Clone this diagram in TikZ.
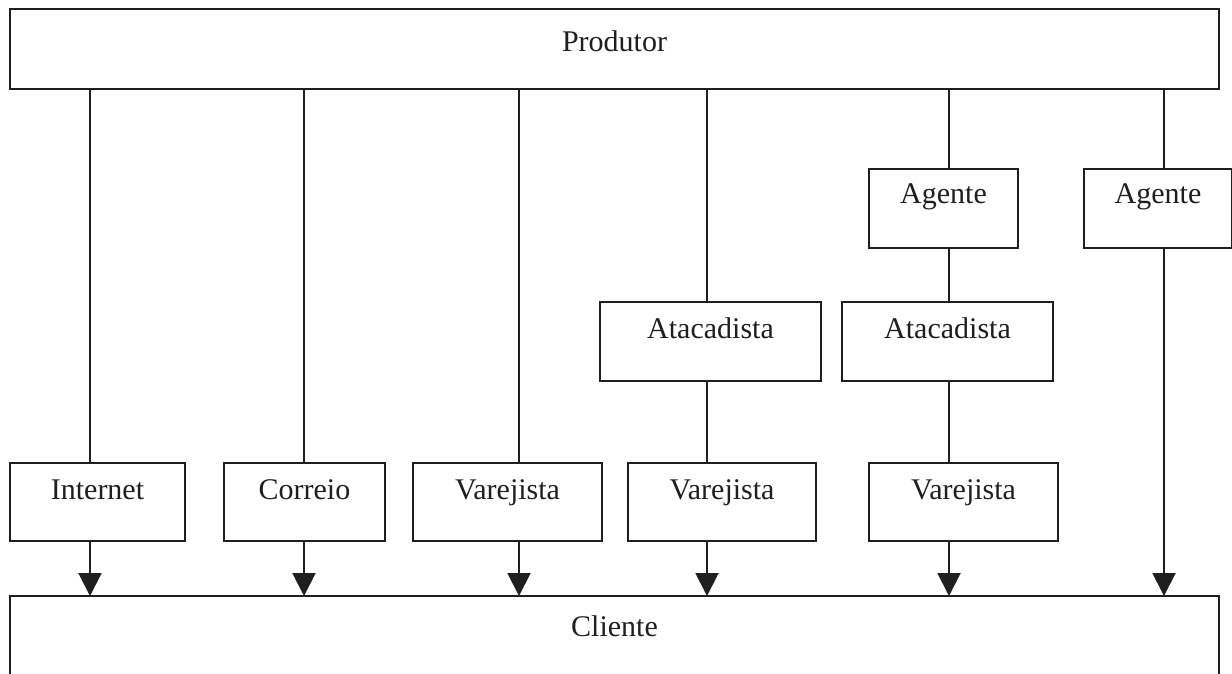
\documentclass[tikz,border=0pt]{standalone}
\usepackage{fontspec}
\setmainfont{Liberation Serif}
\usetikzlibrary{arrows.meta}
\begin{document}
\begin{tikzpicture}[x=1pt,y=-1pt,
  box/.style={draw=black!88, line width=2pt, inner sep=0pt, anchor=north west,
    font=\fontsize{30}{35}\selectfont, text=black!88},
  smallbox/.style={box, text height=36pt, text depth=42pt},
  conn/.style={draw=black!88, line width=2pt},
  arr/.style={conn, -{Triangle[width=23pt,length=23pt]}, shorten >=-1pt}]
\clip (0,0) rectangle (1232,674);
\fill[white] (0,0) rectangle (1232,674);
% big boxes
\node[box, minimum width=1209pt, text height=43pt, text depth=37pt] (prod) at (9,8) {Produtor};
\node[box, minimum width=1209pt, text height=40pt, text depth=70pt] (cli) at (9,595) {Cliente};
% bottom row
\node[smallbox, minimum width=175pt] (inet) at (9,462) {Internet};
\node[smallbox, minimum width=161pt] (corr) at (223,462) {Correio};
\node[smallbox, minimum width=189pt] (var1) at (412,462) {Varejista};
\node[smallbox, minimum width=188pt] (var2) at (627,462) {Varejista};
\node[smallbox, minimum width=189pt] (var3) at (868,462) {Varejista};
% middle row
\node[box, minimum width=221pt, text height=36pt, text depth=43pt] (ata1) at (599,301) {Atacadista};
\node[box, minimum width=211pt, text height=36pt, text depth=43pt] (ata2) at (841,301) {Atacadista};
% top row
\node[box, minimum width=149pt, text height=35pt, text depth=44pt] (ag1) at (868,168) {Agente};
\node[box, minimum width=148pt, text height=35pt, text depth=44pt] (ag2) at (1083,168) {Agente};
% column positions
\coordinate (c1) at (90,0);
\coordinate (c2) at (304,0);
\coordinate (c3) at (519,0);
\coordinate (c4) at (707,0);
\coordinate (c5) at (949,0);
\coordinate (c6) at (1164,0);
% column 1
\draw[conn] (c1 |- prod.south) -- (c1 |- inet.north);
\draw[arr] (c1 |- inet.south) -- (c1 |- cli.north);
% column 2
\draw[conn] (c2 |- prod.south) -- (c2 |- corr.north);
\draw[arr] (c2 |- corr.south) -- (c2 |- cli.north);
% column 3
\draw[conn] (c3 |- prod.south) -- (c3 |- var1.north);
\draw[arr] (c3 |- var1.south) -- (c3 |- cli.north);
% column 4
\draw[conn] (c4 |- prod.south) -- (c4 |- ata1.north);
\draw[conn] (c4 |- ata1.south) -- (c4 |- var2.north);
\draw[arr] (c4 |- var2.south) -- (c4 |- cli.north);
% column 5
\draw[conn] (c5 |- prod.south) -- (c5 |- ag1.north);
\draw[conn] (c5 |- ag1.south) -- (c5 |- ata2.north);
\draw[conn] (c5 |- ata2.south) -- (c5 |- var3.north);
\draw[arr] (c5 |- var3.south) -- (c5 |- cli.north);
% column 6
\draw[conn] (c6 |- prod.south) -- (c6 |- ag2.north);
\draw[arr] (c6 |- ag2.south) -- (c6 |- cli.north);
\end{tikzpicture}
\end{document}
